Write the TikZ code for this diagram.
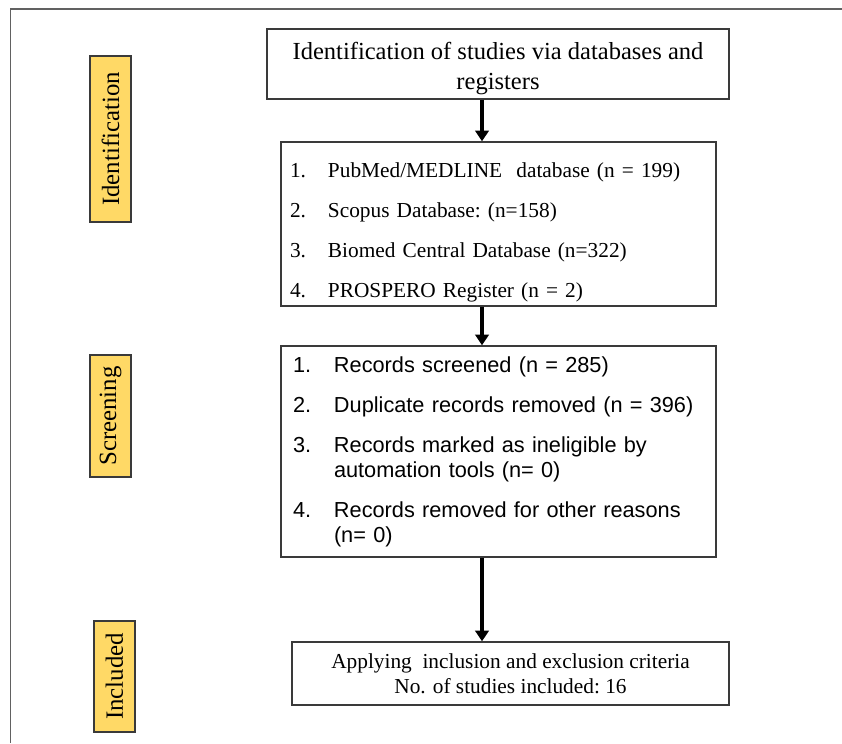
\documentclass[tikz,border=0pt]{standalone}
\usepackage{fontspec}
\setmainfont{Liberation Serif}
\setsansfont{Liberation Sans}
\usetikzlibrary{arrows.meta}
\usepackage{xcolor}
\definecolor{tag}{HTML}{FFD966}
\definecolor{edge}{HTML}{3A3A3A}
\newcommand{\nr}[2][28.5pt]{\makebox[#1][l]{#2}}

\begin{document}
\begin{tikzpicture}[x=0.75pt, y=-0.75pt,
  phase/.style={draw=edge, fill=tag, rotate=90, line width=0.8pt, inner sep=0pt, minimum height=30.75pt, minimum width=#1, font=\fontsize{18.6}{20}\selectfont},
  box/.style={draw=edge, line width=1pt, inner ysep=0pt},
  flow/.style={line width=3pt, -{Triangle[length=8pt, width=10pt]}}]
  \useasboundingbox (0,0) rectangle (842,743);
  \draw[edge!80, line width=0.9pt] (10.5,743) -- (10.5,9) -- (842,9);
  \node[phase=124.5pt] (idtag) at (110.5,139) {Identification};
  \node[phase=91.5pt] (scrtag) at (110.5,416) {Screening};
  \node[phase=83.25pt] (inctag) at (114.5,676.5) {Included};
  \node[box, minimum width=346.5pt, minimum height=52.5pt, align=center, font=\fontsize{18.4}{22.5}\selectfont] (ident) at (498,64) {
  \rule{0pt}{20pt}Identification of studies via databases and\\registers};
  \node[box, inner xsep=6.75pt, text width=312.75pt, minimum height=123pt, align=left, font=\fontsize{16}{30}\selectfont] (dbs) at (498.5,224) {
  \rule{0pt}{23pt}\nr{1.}PubMed/MEDLINE\ \ database\ (n = 199)\\
  \nr{2.}Scopus Database:\ (n=158)\\
  \nr{3.}Biomed Central Database\ (n=322)\\
  \nr{4.}PROSPERO Register (n = 2)};
  \node[box, inner xsep=9pt, text width=308.25pt, minimum height=158.25pt, align=left, font=\sffamily\fontsize{16.3}{18.75}\selectfont] (screen) at (498.5,451.5) {
  \nr[30.75pt]{1.}Records screened (n = 285)\\[11.25pt]
  \nr[30.75pt]{2.}Duplicate\ records removed (n = 396)\\[11.25pt]
  \nr[30.75pt]{3.}Records marked\ as ineligible by\\
  \hspace*{30.75pt}automation tools (n= 0)\\[11.25pt]
  \nr[30.75pt]{4.}Records removed\ for other reasons\\
  \hspace*{30.75pt}(n= 0)};
  \node[box, minimum width=327.75pt, minimum height=47.25pt, align=center, font=\fontsize{16}{18.75}\selectfont] (incl) at (510.5,673.5) {
  Applying\ \ inclusion and exclusion criteria\\No. of studies included:\ 16};
  \coordinate (spine) at (482,0);
  \draw[flow] (ident.south -| spine) -- (dbs.north -| spine);
  \draw[flow] (dbs.south -| spine) -- (screen.north -| spine);
  \draw[flow] (screen.south -| spine) -- (incl.north -| spine);
\end{tikzpicture}
\end{document}
